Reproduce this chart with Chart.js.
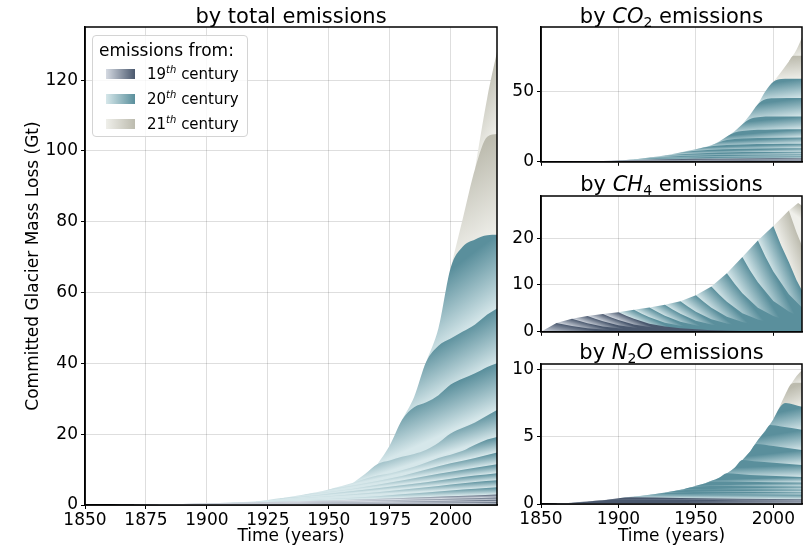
<!DOCTYPE html>
<html>
<head>
<meta charset="utf-8">
<script src="https://cdn.jsdelivr.net/npm/chart.js@4.4.1/dist/chart.umd.min.js"></script>
<style>
  body { margin: 0; background: #fff; font-family: "DejaVu Sans", sans-serif; color: #000; }
  #wrap { position: relative; width: 810px; height: 550px; overflow: hidden; }
  canvas { position: absolute; }
  .ttl { position: absolute; text-align: center; font-size: 21px; line-height: 24px; white-space: nowrap; z-index: 2; }
  .ttl sub { font-size: 14px; line-height: 0; vertical-align: -4px; }
  #legend { position: absolute; left: 92px; top: 35px; width: 154px; height: 100px; border: 1px solid #d4d4d4;
            border-radius: 4px; background: rgba(255,255,255,0.8); z-index: 3; }
  #legend .head { position: absolute; left: 6px; top: 4px; font-size: 17px; line-height: 20px; }
  #legend .sw { position: absolute; left: 13px; width: 29px; height: 10px; }
  #legend .lab { position: absolute; left: 54px; font-size: 15px; line-height: 18px; white-space: nowrap; }
  #legend sup { font-size: 10px; line-height: 0; vertical-align: 6px; font-style: italic; }
</style>
</head>
<body>
<div id="wrap">
  <canvas id="totalChart" width="505" height="550" style="left:0;top:0"></canvas>
  <canvas id="co2Chart" width="305" height="175" style="left:505px;top:0"></canvas>
  <canvas id="ch4Chart" width="305" height="170" style="left:505px;top:175px"></canvas>
  <canvas id="n2oChart" width="305" height="205" style="left:505px;top:345px"></canvas>

  <div class="ttl" style="left:85px;width:412px;top:4px">by total emissions</div>
  <div class="ttl" style="left:541px;width:261px;top:4px">by <i>CO</i><sub>2</sub> emissions</div>
  <div class="ttl" style="left:541px;width:261px;top:172px">by <i>CH</i><sub>4</sub> emissions</div>
  <div class="ttl" style="left:541px;width:261px;top:340px">by <i>N</i><sub>2</sub><i>O</i> emissions</div>

  <div id="legend">
    <div class="head">emissions from:</div>
    <div class="sw" id="sw0" style="top:33px"></div><div class="lab" style="top:29px">19<sup>th</sup> century</div>
    <div class="sw" id="sw1" style="top:58px"></div><div class="lab" style="top:54px">20<sup>th</sup> century</div>
    <div class="sw" id="sw2" style="top:83px"></div><div class="lab" style="top:79px">21<sup>th</sup> century</div>
  </div>
</div>
<script>
// --- 1. data: upper edge of each emission decade (cumulative, Gt), [year, value] ---
const decades = ['1850s','1860s','1870s','1880s','1890s','1900s','1910s','1920s','1930s','1940s',
                 '1950s','1960s','1970s','1980s','1990s','2000s','2010s'];
const centuryLabels = ['19th century', '20th century', '21th century'];
const centuryLight = ['#d5dae2', '#d6e7ea', '#efefea'];
const centuryDark  = ['#4a586e', '#5a8f9c', '#bcbbae'];

const totalBounds = [
  [[1850,0],[1860,0.03],[1900,0.07],[1950,0.15],[2000,0.28],[2019,0.35]],
  [[1860,0.03],[1870,0.08],[1900,0.17],[1950,0.4],[2000,0.7],[2019,0.85]],
  [[1870,0.08],[1880,0.18],[1900,0.3],[1950,0.7],[2000,1.2],[2019,1.45]],
  [[1880,0.18],[1890,0.3],[1900,0.42],[1950,1.0],[2000,1.8],[2019,2.15]],
  [[1890,0.3],[1900,0.5],[1950,1.3],[2000,2.5],[2019,3.0]],
  [[1900,0.5],[1905,0.6],[1910,0.7],[1930,1.1],[1950,1.7],[1970,2.5],[1990,3.5],[2000,4.1],[2010,4.6],[2019,5.0]],
  [[1910,0.7],[1915,0.85],[1920,1.0],[1930,1.5],[1950,2.5],[1970,3.6],[1990,5.0],[2000,5.8],[2010,6.5],[2019,7.0]],
  [[1920,1.0],[1925,1.4],[1930,1.9],[1940,2.4],[1950,3.2],[1970,4.7],[1990,6.4],[2000,7.4],[2010,8.3],[2019,9.0]],
  [[1930,1.9],[1935,2.4],[1940,3.0],[1950,3.7],[1960,4.6],[1970,5.7],[1990,8.2],[2000,9.4],[2010,10.5],[2019,11.5]],
  [[1940,3.0],[1945,3.6],[1950,4.4],[1960,5.5],[1970,6.8],[1980,8.2],[1990,10.0],[2000,11.8],[2010,13.3],[2019,14.8]],
  [[1950,4.4],[1955,5.3],[1960,6.3],[1965,7.4],[1970,8.3],[1975,8.9],[1980,9.8],[1985,10.8],[1990,12.0],[1995,13.3],[2000,14.2],[2005,15.3],[2010,17.0],[2015,18.5],[2019,19.2]],
  [[1960,6.3],[1965,8.8],[1970,11.6],[1975,12.6],[1980,13.6],[1985,14.4],[1990,15.6],[1995,17.6],[2000,20.2],[2005,21.8],[2010,23.3],[2015,25.3],[2019,26.8]],
  [[1970,11.6],[1975,16.8],[1980,24.0],[1985,27.6],[1990,29.0],[1995,31.0],[2000,34.0],[2005,35.7],[2010,37.2],[2015,39.0],[2019,40.0]],
  [[1980,24.0],[1985,30.5],[1990,40.5],[1995,45.0],[2000,47.0],[2005,49.0],[2010,51.0],[2015,53.8],[2019,55.5]],
  [[1990,40.5],[1995,50.0],[2000,67.0],[2005,73.0],[2010,75.0],[2015,76.2],[2019,76.3]],
  [[2000,67.0],[2005,81.0],[2010,95.0],[2015,104.0],[2019,104.8]],
  [[2010,95.0],[2015,115.0],[2019,128.0]]
];

const co2Bounds = [
  [[1850,0],[1860,0.05],[1900,0.15],[1950,0.25],[2019,0.3]],
  [[1860,0.05],[1870,0.15],[1900,0.35],[1950,0.6],[2019,0.7]],
  [[1870,0.15],[1880,0.28],[1900,0.55],[1950,1.0],[2019,1.2]],
  [[1880,0.28],[1890,0.5],[1900,0.7],[1950,1.5],[2019,1.8]],
  [[1890,0.5],[1900,0.9],[1950,2.1],[1980,2.4],[2019,2.5]],
  [[1900,0.9],[1905,1.3],[1910,1.8],[1930,2.8],[1960,3.5],[2019,3.9]],
  [[1910,1.8],[1915,2.4],[1920,3.0],[1940,4.2],[1970,5.0],[2019,5.4]],
  [[1920,3.0],[1925,3.7],[1930,4.5],[1950,6.0],[1980,6.9],[2019,7.2]],
  [[1930,4.5],[1935,5.5],[1940,6.6],[1960,8.5],[1990,9.4],[2019,9.6]],
  [[1940,6.6],[1945,7.8],[1950,9.0],[1960,11.0],[1980,12.3],[2019,12.8]],
  [[1950,9.0],[1955,10.3],[1960,11.8],[1965,14.0],[1970,15.5],[1990,17.0],[2019,17.4]],
  [[1960,11.8],[1965,14.5],[1970,18.0],[1975,20.8],[1980,22.0],[2000,23.0],[2019,23.2]],
  [[1970,18.0],[1975,21.8],[1980,26.8],[1985,30.5],[1990,31.8],[2000,32.2],[2019,32.3]],
  [[1980,26.8],[1985,33.5],[1990,41.0],[1995,44.5],[2000,45.2],[2019,45.4]],
  [[1990,41.0],[1995,50.5],[2000,57.0],[2005,59.0],[2010,59.2],[2019,59.1]],
  [[2000,57.0],[2005,64.0],[2010,71.5],[2013,75.5],[2019,75.5]],
  [[2010,71.5],[2015,80.0],[2019,90.0]]
];

const ch4Bounds = [
  [[1850,0],[1860,1.9],[1865,1.56],[1870,1.25],[1880,0.78],[1890,0.51],[1900,0.34],[1920,0.15],[1940,0.08],[1960,0.04],[2019,0.01]],
  [[1860,1.9],[1870,2.8],[1875,2.3],[1880,1.85],[1890,1.15],[1900,0.76],[1910,0.5],[1930,0.22],[1950,0.11],[1970,0.06],[2019,0.02]],
  [[1870,2.8],[1880,3.4],[1885,2.8],[1890,2.24],[1900,1.4],[1910,0.92],[1920,0.61],[1940,0.27],[1960,0.14],[1980,0.07],[2019,0.03]],
  [[1880,3.4],[1890,3.8],[1895,3.12],[1900,2.5],[1910,1.56],[1920,1.03],[1930,0.68],[1950,0.3],[1970,0.15],[1990,0.08],[2019,0.04]],
  [[1890,3.8],[1900,4.2],[1905,3.44],[1910,2.77],[1920,1.72],[1930,1.13],[1940,0.76],[1960,0.34],[1980,0.17],[2000,0.08],[2019,0.05]],
  [[1900,4.2],[1910,4.7],[1915,3.85],[1920,3.1],[1930,1.93],[1940,1.27],[1950,0.85],[1970,0.38],[1990,0.19],[2019,0.08]],
  [[1910,4.7],[1920,5.2],[1925,4.26],[1930,3.43],[1940,2.13],[1950,1.4],[1960,0.94],[1980,0.42],[2000,0.21],[2019,0.12]],
  [[1920,5.2],[1930,5.8],[1935,4.76],[1940,3.83],[1950,2.38],[1960,1.57],[1970,1.04],[1990,0.46],[2010,0.23],[2019,0.18]],
  [[1930,5.8],[1940,6.5],[1945,5.33],[1950,4.29],[1960,2.67],[1970,1.76],[1980,1.17],[2000,0.52],[2019,0.3]],
  [[1940,6.5],[1950,7.8],[1955,6.4],[1960,5.15],[1970,3.2],[1980,2.1],[1990,1.4],[2010,0.62],[2019,0.5]],
  [[1950,7.8],[1960,9.7],[1965,7.95],[1970,6.4],[1980,3.98],[1990,2.62],[2000,1.75],[2019,0.9]],
  [[1960,9.7],[1970,12.5],[1975,10.25],[1980,8.25],[1990,5.13],[2000,3.38],[2010,2.25],[2019,1.6]],
  [[1970,12.5],[1980,16.0],[1985,13.1],[1990,10.6],[2000,6.56],[2010,4.32],[2019,2.9]],
  [[1980,16.0],[1990,19.5],[1995,16.0],[2000,12.9],[2010,8.0],[2019,5.0]],
  [[1990,19.5],[2000,22.6],[2005,18.5],[2010,14.9],[2015,11.0],[2019,8.5]],
  [[2000,22.6],[2010,25.9],[2015,21.2],[2019,18.0]],
  [[2010,25.9],[2016,27.5],[2019,26.8]]
];

const n2oBounds = [
  [[1850,0],[1860,0.03],[1868,0.08],[1940,0.06],[2019,0.05]],
  [[1860,0.03],[1870,0.1],[1878,0.155],[1940,0.14],[2019,0.11]],
  [[1870,0.1],[1880,0.18],[1888,0.24],[1940,0.22],[2019,0.18]],
  [[1880,0.18],[1890,0.27],[1898,0.36],[1940,0.32],[2019,0.26]],
  [[1890,0.27],[1900,0.42],[1908,0.5],[1940,0.45],[2019,0.35]],
  [[1900,0.42],[1910,0.55],[1918,0.64],[1940,0.72],[2019,0.7]],
  [[1910,0.55],[1920,0.68],[1928,0.8],[1950,0.9],[2019,0.88]],
  [[1920,0.68],[1930,0.85],[1938,1.0],[1960,1.1],[2019,1.08]],
  [[1930,0.85],[1940,1.05],[1948,1.27],[1970,1.33],[2019,1.3]],
  [[1940,1.05],[1945,1.18],[1950,1.35],[1955,1.5],[1960,1.68],[1980,1.66],[2019,1.6]],
  [[1950,1.35],[1955,1.5],[1960,1.72],[1965,1.95],[1970,2.28],[1985,2.15],[2019,2.0]],
  [[1960,1.72],[1965,1.95],[1970,2.28],[1975,2.7],[1980,3.27],[1990,3.15],[2019,2.9]],
  [[1970,2.28],[1975,2.7],[1980,3.27],[1985,3.9],[1989,4.45],[2000,4.3],[2019,4.0]],
  [[1980,3.27],[1985,3.9],[1990,4.75],[1995,5.45],[1998,5.86],[2005,5.75],[2019,5.5]],
  [[1990,4.75],[1995,5.5],[2000,6.3],[2004,7.15],[2008,7.5],[2013,7.4],[2019,7.2]],
  [[2000,6.3],[2004,7.2],[2008,8.2],[2012,8.95],[2016,9.0],[2019,9.0]],
  [[2010,8.6],[2012,9.0],[2015,9.5],[2019,10.0]]
];

// --- 2. helpers ---
const centuryOf = k => (k < 5 ? 0 : (k < 15 ? 1 : 2));
const lastOf = pts => pts[pts.length - 1];
const peakIdx = pts => pts.reduce((best, p, i) => (p[1] > pts[best][1] ? i : best), 0);

// light at the lower edge of each band, dark at its upper edge
function bandFill(chart, bounds, k, mode) {
  const c = centuryOf(k);
  const {ctx, chartArea, scales} = chart;
  if (!chartArea) return centuryDark[c];
  const px = p => [scales.x.getPixelForValue(p[0]), scales.y.getPixelForValue(p[1])];
  const pts = bounds[k];
  let g;
  if (mode === 'plateau') {
    // iso-colour lines follow the lower edge from where the band starts to the end
    const a = px(pts[0]);
    const lowEnd = k ? lastOf(bounds[k - 1]) : [lastOf(pts)[0], 0];
    const e = px(lowEnd);
    const top = px(lastOf(pts));
    let lx = e[0] - a[0], ly = e[1] - a[1];
    if (lx < 1) { lx = 1; ly = 0; }
    const len = Math.hypot(lx, ly);
    const nx = ly / len, ny = -lx / len;
    let w = (e[1] - top[1]) * lx / len;
    if (w < 1) w = 1;
    g = ctx.createLinearGradient(e[0], e[1], e[0] + nx * w, e[1] + ny * w);
  } else {
    // CH4: bands are diagonal ridges, shade across the ridge direction
    const pi = peakIdx(pts);
    const prev = k ? bounds[k - 1][peakIdx(bounds[k - 1])] : pts[0];
    const nxt = pts[Math.min(pi + 2, pts.length - 1)];
    const a = px(prev), b = px(pts[pi]), n = px(nxt);
    let dx = n[0] - b[0], dy = n[1] - b[1];
    if (pi === pts.length - 1 || (dx === 0 && dy === 0)) { dx = 1; dy = 1; }
    const len = Math.hypot(dx, dy);
    const ux = dy / len, uy = -dx / len;
    let w = (b[0] - a[0]) * ux + (b[1] - a[1]) * uy;
    if (w < 2) w = 2;
    g = ctx.createLinearGradient(a[0], a[1], a[0] + ux * w, a[1] + uy * w);
  }
  g.addColorStop(0, centuryLight[c]);
  g.addColorStop(1, centuryDark[c]);
  return g;
}

function buildDatasets(bounds, mode) {
  return bounds.map((pts, k) => ({
    label: decades[k],
    data: pts.map(p => ({x: p[0], y: p[1]})),
    fill: 'origin',
    pointRadius: 0,
    borderWidth: 0,
    borderColor: 'rgba(0,0,0,0)',
    tension: mode === 'plateau' ? 0.4 : 0,
    cubicInterpolationMode: mode === 'plateau' ? 'monotone' : 'default',
    backgroundColor: ctx => bandFill(ctx.chart, bounds, k, mode)
  }));
}

const tickFont = {family: 'DejaVu Sans', size: 17};
const gridOpts = {color: 'rgba(0,0,0,0.13)', lineWidth: 1, tickColor: '#000', tickLength: 4, drawTicks: true};
const borderOpts = {display: true, color: '#000', width: 1.5};

const framePlugin = {
  id: 'frame',
  afterDraw(chart) {
    const {ctx, chartArea: a} = chart;
    ctx.save();
    ctx.strokeStyle = '#000';
    ctx.lineWidth = 1.5;
    ctx.strokeRect(a.left, a.top, a.right - a.left, a.bottom - a.top);
    ctx.restore();
  }
};

function makeChart(id, bounds, mode, o) {
  return new Chart(document.getElementById(id), {
    type: 'line',
    data: {datasets: buildDatasets(bounds, mode)},
    options: {
      responsive: false,
      animation: false,
      events: [],
      layout: {padding: {top: o.padTop, right: 8, left: 0, bottom: 0}},
      plugins: {legend: {display: false}, tooltip: {enabled: false}},
      scales: {
        x: {
          type: 'linear', min: 1850, max: o.xMax, z: 1,
          ticks: {stepSize: o.xStep, includeBounds: false, display: o.xLabels, font: tickFont,
                  color: '#000', padding: 1, maxRotation: 0, autoSkip: false,
                  callback: v => String(v)},
          grid: gridOpts, border: borderOpts,
          title: {display: o.xLabels, text: 'Time (years)', font: tickFont, color: '#000',
                  padding: {top: 0, bottom: 3}},
          afterFit: s => { s.height = o.xHeight; }
        },
        y: {
          type: 'linear', min: 0, max: o.yMax, z: 1,
          ticks: {stepSize: o.yStep, includeBounds: false, font: tickFont, color: '#000', padding: 3,
                  callback: v => String(v)},
          grid: gridOpts, border: borderOpts,
          title: {display: !!o.yTitle, text: o.yTitle || '', font: tickFont, color: '#000',
                  padding: {top: 23, bottom: 0}},
          afterFit: s => { s.width = o.yWidth; }
        }
      }
    },
    plugins: [framePlugin]
  });
}

// --- 3. charts ---
makeChart('totalChart', totalBounds, 'plateau',
  {padTop: 27, xMax: 2019, xStep: 25, xLabels: true, xHeight: 45, yMax: 135, yStep: 20, yWidth: 85,
   yTitle: 'Committed Glacier Mass Loss (Gt)'});
makeChart('co2Chart', co2Bounds, 'plateau',
  {padTop: 27, xMax: 2018.5, xStep: 50, xLabels: false, xHeight: 8, yMax: 96, yStep: 50, yWidth: 36});
makeChart('ch4Chart', ch4Bounds, 'ridge',
  {padTop: 21, xMax: 2018.5, xStep: 50, xLabels: false, xHeight: 9, yMax: 29, yStep: 10, yWidth: 36});
makeChart('n2oChart', n2oBounds, 'plateau',
  {padTop: 19, xMax: 2018.5, xStep: 50, xLabels: true, xHeight: 46, yMax: 10.4, yStep: 5, yWidth: 36});

// --- 4. legend swatches ---
centuryLabels.forEach((_, i) => {
  document.getElementById('sw' + i).style.background =
    `linear-gradient(to right, ${centuryLight[i]}, ${centuryDark[i]})`;
});
</script>
</body>
</html>
